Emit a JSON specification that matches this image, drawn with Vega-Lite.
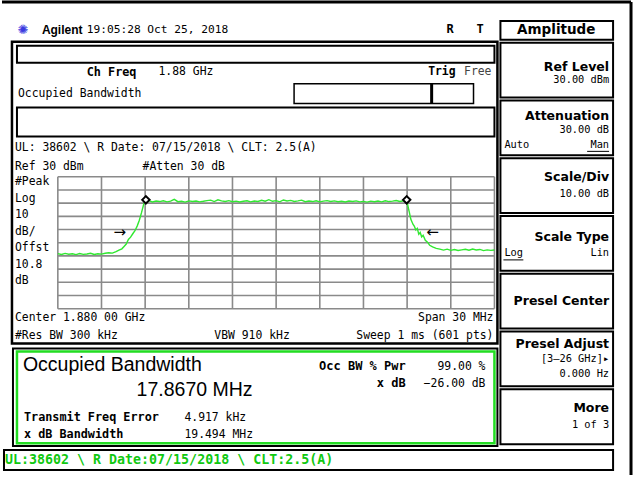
{
 "$schema": "https://vega.github.io/schema/vega-lite/v6.json",
 "width": 637, "height": 477, "padding": 0,
 "autosize": {"type": "fit", "contains": "padding"},
 "background": "white",
 "config": {"view": {"stroke": null}, "axis": {"disable": true}},
 "datasets": {
  "vgrid": [{"f":1865},{"f":1868},{"f":1871},{"f":1874},{"f":1877},{"f":1880},{"f":1883},{"f":1886},{"f":1889},{"f":1892},{"f":1895}],
  "hgrid": [{"p":30},{"p":20},{"p":10},{"p":0},{"p":-10},{"p":-20},{"p":-30},{"p":-40},{"p":-50},{"p":-60},{"p":-70}],
  "markers": [{"f":1871.05,"p":12.5},{"f":1888.97,"p":12.5}],
  "arrows": [{"f":1869.25,"p":-11.9,"sym":"→"},{"f":1890.75,"p":-11.9,"sym":"←"}],
  "trace": [
   {"f":1865.00,"p":-28.3},{"f":1865.25,"p":-28.9},{"f":1865.50,"p":-28.1},{"f":1865.75,"p":-28.7},
   {"f":1866.00,"p":-28.4},{"f":1866.25,"p":-29.0},{"f":1866.50,"p":-28.2},{"f":1866.75,"p":-28.8},
   {"f":1867.00,"p":-28.5},{"f":1867.25,"p":-28.0},{"f":1867.50,"p":-28.9},{"f":1867.75,"p":-28.4},
   {"f":1868.00,"p":-28.6},{"f":1868.25,"p":-28.0},{"f":1868.50,"p":-27.6},{"f":1868.75,"p":-27.9},
   {"f":1869.00,"p":-26.8},{"f":1869.20,"p":-25.6},{"f":1869.40,"p":-24.6},{"f":1869.55,"p":-22.8},
   {"f":1869.70,"p":-21.0},{"f":1869.85,"p":-17.5},{"f":1870.00,"p":-15.8},{"f":1870.15,"p":-13.2},
   {"f":1870.30,"p":-10.9},{"f":1870.45,"p":-7.4},{"f":1870.60,"p":-3.0},{"f":1870.75,"p":2.8},
   {"f":1870.90,"p":9.2},{"f":1871.00,"p":11.6},
   {"f":1871.25,"p":11.9},{"f":1871.50,"p":10.9},{"f":1871.75,"p":11.6},{"f":1872.00,"p":11.2},
   {"f":1872.25,"p":11.8},{"f":1872.50,"p":11.0},{"f":1872.75,"p":11.5},{"f":1873.00,"p":12.9},
   {"f":1873.25,"p":11.1},{"f":1873.50,"p":11.4},{"f":1873.75,"p":10.8},{"f":1874.00,"p":11.7},
   {"f":1874.25,"p":11.2},{"f":1874.50,"p":11.6},{"f":1874.75,"p":11.0},{"f":1875.00,"p":11.4},
   {"f":1875.25,"p":11.9},{"f":1875.50,"p":12.3},{"f":1875.75,"p":11.2},{"f":1876.00,"p":12.5},
   {"f":1876.25,"p":11.7},{"f":1876.50,"p":11.3},{"f":1876.75,"p":11.9},{"f":1877.00,"p":11.1},
   {"f":1877.25,"p":11.5},{"f":1877.50,"p":10.9},{"f":1877.75,"p":11.4},{"f":1878.00,"p":11.8},
   {"f":1878.25,"p":11.0},{"f":1878.50,"p":11.6},{"f":1878.75,"p":11.3},{"f":1879.00,"p":12.2},
   {"f":1879.25,"p":11.5},{"f":1879.50,"p":12.6},{"f":1879.75,"p":11.4},{"f":1880.00,"p":11.9},
   {"f":1880.25,"p":11.0},{"f":1880.50,"p":12.4},{"f":1880.75,"p":11.6},{"f":1881.00,"p":12.1},
   {"f":1881.25,"p":11.3},{"f":1881.50,"p":11.7},{"f":1881.75,"p":12.3},{"f":1882.00,"p":11.1},
   {"f":1882.25,"p":11.6},{"f":1882.50,"p":11.2},{"f":1882.75,"p":11.8},{"f":1883.00,"p":11.0},
   {"f":1883.25,"p":11.5},{"f":1883.50,"p":11.9},{"f":1883.75,"p":11.3},{"f":1884.00,"p":11.7},
   {"f":1884.25,"p":11.1},{"f":1884.50,"p":11.4},{"f":1884.75,"p":10.9},{"f":1885.00,"p":11.6},
   {"f":1885.25,"p":11.2},{"f":1885.50,"p":11.7},{"f":1885.75,"p":11.0},{"f":1886.00,"p":11.3},
   {"f":1886.25,"p":10.8},{"f":1886.50,"p":11.5},{"f":1886.75,"p":11.1},{"f":1887.00,"p":11.6},
   {"f":1887.25,"p":11.0},{"f":1887.50,"p":11.8},{"f":1887.75,"p":11.2},{"f":1888.00,"p":11.5},
   {"f":1888.25,"p":12.0},{"f":1888.50,"p":11.3},{"f":1888.75,"p":11.8},{"f":1889.00,"p":11.2},
   {"f":1889.08,"p":6.5},{"f":1889.15,"p":3.2},{"f":1889.25,"p":-2.1},{"f":1889.40,"p":-6.0},
   {"f":1889.50,"p":-7.6},{"f":1889.60,"p":-10.3},{"f":1889.70,"p":-9.1},{"f":1889.80,"p":-13.5},
   {"f":1889.90,"p":-12.2},{"f":1890.00,"p":-15.6},{"f":1890.10,"p":-14.4},{"f":1890.25,"p":-18.1},
   {"f":1890.40,"p":-19.6},{"f":1890.55,"p":-21.9},{"f":1890.75,"p":-23.2},{"f":1891.00,"p":-24.3},
   {"f":1891.25,"p":-24.8},{"f":1891.50,"p":-25.6},{"f":1891.75,"p":-24.9},{"f":1892.00,"p":-25.8},
   {"f":1892.25,"p":-25.2},{"f":1892.50,"p":-25.9},{"f":1892.75,"p":-25.4},{"f":1893.00,"p":-25.0},
   {"f":1893.25,"p":-25.7},{"f":1893.50,"p":-24.8},{"f":1893.75,"p":-25.5},{"f":1894.00,"p":-25.1},
   {"f":1894.25,"p":-26.0},{"f":1894.50,"p":-25.4},{"f":1894.75,"p":-25.8},{"f":1895.00,"p":-25.5}
  ]
 },
 "data": {"values": [{}]},
 "layer": [
  {"mark":{"type":"rule","color":"black","strokeWidth":3},"encoding":{"x":{"datum":1861.164},"x2":{"datum":1904.384},"y":{"datum":162.453}}},
  {"mark":{"type":"rule","color":"black","strokeWidth":3},"encoding":{"x":{"datum":1904.384},"y":{"datum":162.453},"y2":{"datum":-196.038}}},
  {"mark":{"type":"rect","fill":"white","stroke":"black","strokeWidth":2.5},"encoding":{"x":{"datum":1861.849},"x2":{"datum":1895.205},"y":{"datum":132.264},"y2":{"datum":-96.415}}},
  {"mark":{"type":"rect","fill":"white","stroke":"black","strokeWidth":2},"encoding":{"x":{"datum":1862.192},"x2":{"datum":1895.0},"y":{"datum":129.245},"y2":{"datum":116.415}}},
  {"mark":{"type":"rect","fill":"white","stroke":"black","strokeWidth":1.5},"encoding":{"x":{"datum":1881.233},"x2":{"datum":1893.562},"y":{"datum":100.566},"y2":{"datum":85.472}}},
  {"mark":{"type":"rule","color":"black","strokeWidth":3},"encoding":{"x":{"datum":1890.685},"y":{"datum":100.566},"y2":{"datum":85.472}}},
  {"mark":{"type":"rect","fill":"white","stroke":"black","strokeWidth":2},"encoding":{"x":{"datum":1862.192},"x2":{"datum":1895.0},"y":{"datum":82.453},"y2":{"datum":60.566}}},
  {"data":{"name":"vgrid"},"mark":{"type":"rule","color":"#8a8a8a","strokeWidth":1.6},"encoding":{"x":{"field":"f","type":"quantitative"},"y":{"datum":30},"y2":{"datum":-70}}},
  {"data":{"name":"hgrid"},"mark":{"type":"rule","color":"#8a8a8a","strokeWidth":1.6},"encoding":{"y":{"field":"p","type":"quantitative"},"x":{"datum":1865},"x2":{"datum":1895}}},
  {"data":{"name":"trace"},"mark":{"type":"line","color":"#30e830","strokeWidth":1.4},"encoding":{"x":{"field":"f","type":"quantitative","scale":{"domain":[1861.164,1904.795],"nice":false,"zero":false}},"y":{"field":"p","type":"quantitative","scale":{"domain":[-196.038,163.962],"nice":false,"zero":false}}}},
  {"data":{"name":"markers"},"mark":{"type":"point","shape":"diamond","filled":true,"fill":"white","stroke":"black","strokeWidth":2,"size":55,"opacity":1},"encoding":{"x":{"field":"f","type":"quantitative"},"y":{"field":"p","type":"quantitative"}}},
  {"data":{"name":"arrows"},"mark":{"type":"text","font":"DejaVu Sans","fontSize":15,"baseline":"middle","align":"center","fill":"black"},"encoding":{"x":{"field":"f","type":"quantitative"},"y":{"field":"p","type":"quantitative"},"text":{"field":"sym"}}},
  {"mark":{"type":"rect","fill":"white","stroke":"black","strokeWidth":2},"encoding":{"x":{"datum":1861.918},"x2":{"datum":1895.205},"y":{"datum":-100.189},"y2":{"datum":-174.151}}},
  {"mark":{"type":"rect","fill":"white","stroke":"#22dd22","strokeWidth":2.5},"encoding":{"x":{"datum":1862.192},"x2":{"datum":1895.0},"y":{"datum":-102.453},"y2":{"datum":-171.887}}},
  {"mark":{"type":"rect","fill":"white","stroke":"black","strokeWidth":2},"encoding":{"x":{"datum":1861.301},"x2":{"datum":1903.151},"y":{"datum":-177.170},"y2":{"datum":-192.264}}},
  {"mark":{"type":"rect","fill":"white","stroke":"black","strokeWidth":2},"encoding":{"x":{"datum":1895.411},"x2":{"datum":1903.151},"y":{"datum":148.113},"y2":{"datum":133.774}}},
  {"mark":{"type":"rect","fill":"white","stroke":"black","strokeWidth":2},"encoding":{"x":{"datum":1895.411},"x2":{"datum":1903.151},"y":{"datum":131.509},"y2":{"datum":90.0}}},
  {"mark":{"type":"rect","fill":"white","stroke":"black","strokeWidth":2},"encoding":{"x":{"datum":1895.411},"x2":{"datum":1903.151},"y":{"datum":87.736},"y2":{"datum":46.226}}},
  {"mark":{"type":"rect","fill":"white","stroke":"black","strokeWidth":2},"encoding":{"x":{"datum":1895.411},"x2":{"datum":1903.151},"y":{"datum":43.962},"y2":{"datum":2.453}}},
  {"mark":{"type":"rect","fill":"white","stroke":"black","strokeWidth":2},"encoding":{"x":{"datum":1895.411},"x2":{"datum":1903.151},"y":{"datum":0.189},"y2":{"datum":-41.321}}},
  {"mark":{"type":"rect","fill":"white","stroke":"black","strokeWidth":2},"encoding":{"x":{"datum":1895.411},"x2":{"datum":1903.151},"y":{"datum":-43.585},"y2":{"datum":-85.094}}},
  {"mark":{"type":"rect","fill":"white","stroke":"black","strokeWidth":2},"encoding":{"x":{"datum":1895.411},"x2":{"datum":1903.151},"y":{"datum":-87.358},"y2":{"datum":-128.868}}},
  {"mark":{"type":"rect","fill":"white","stroke":"black","strokeWidth":2},"encoding":{"x":{"datum":1895.411},"x2":{"datum":1903.151},"y":{"datum":-131.132},"y2":{"datum":-172.642}}},
  {"mark":{"type":"rule","color":"black","strokeWidth":1},"encoding":{"x":{"datum":1901.370},"x2":{"datum":1902.877},"y":{"datum":49.245}}},
  {"mark":{"type":"rule","color":"black","strokeWidth":1},"encoding":{"x":{"datum":1895.616},"x2":{"datum":1896.986},"y":{"datum":-33.019}}},

  {"mark":{"type":"text","align":"center","baseline":"middle","font":"DejaVu Sans","fontSize":13,"fill":"#3a3adf"},"encoding":{"x":{"datum":1862.603},"y":{"datum":141.321},"text":{"value":"✺"}}},
  {"mark":{"type":"text","align":"left","baseline":"middle","font":"Liberation Sans","fontWeight":"bold","fontSize":12},"encoding":{"x":{"datum":1863.904},"y":{"datum":141.321},"text":{"value":"Agilent"}}},
  {"mark":{"type":"text","align":"left","baseline":"middle","font":"DejaVu Sans Mono","fontSize":11.2},"encoding":{"x":{"datum":1866.986},"y":{"datum":141.321},"text":{"value":"19:05:28  Oct 25, 2018"}}},
  {"mark":{"type":"text","align":"left","baseline":"middle","font":"DejaVu Sans Mono","fontWeight":"bold","fontSize":12},"encoding":{"x":{"datum":1891.712},"y":{"datum":142.075},"text":{"value":"R"}}},
  {"mark":{"type":"text","align":"left","baseline":"middle","font":"DejaVu Sans Mono","fontWeight":"bold","fontSize":12},"encoding":{"x":{"datum":1893.767},"y":{"datum":142.075},"text":{"value":"T"}}},

  {"mark":{"type":"text","align":"left","baseline":"middle","font":"DejaVu Sans Mono","fontWeight":"bold","fontSize":11.8},"encoding":{"x":{"datum":1866.986},"y":{"datum":109.245},"text":{"value":"Ch Freq"}}},
  {"mark":{"type":"text","align":"left","baseline":"middle","font":"DejaVu Sans Mono","fontSize":11.4},"encoding":{"x":{"datum":1871.918},"y":{"datum":109.245},"text":{"value":"1.88 GHz"}}},
  {"mark":{"type":"text","align":"right","baseline":"middle","font":"DejaVu Sans Mono","fontWeight":"bold","fontSize":11.4},"encoding":{"x":{"datum":1892.329},"y":{"datum":109.245},"text":{"value":"Trig"}}},
  {"mark":{"type":"text","align":"right","baseline":"middle","font":"DejaVu Sans Mono","fontSize":11.4,"fill":"#444444"},"encoding":{"x":{"datum":1894.795},"y":{"datum":109.245},"text":{"value":"Free"}}},
  {"mark":{"type":"text","align":"left","baseline":"middle","font":"DejaVu Sans Mono","fontSize":11.4},"encoding":{"x":{"datum":1862.260},"y":{"datum":92.642},"text":{"value":"Occupied Bandwidth"}}},
  {"mark":{"type":"text","align":"left","baseline":"middle","font":"DejaVu Sans Mono","fontSize":11.4},"encoding":{"x":{"datum":1862.055},"y":{"datum":51.509},"text":{"value":"UL: 38602 \\ R Date: 07/15/2018 \\ CLT: 2.5(A)"}}},
  {"mark":{"type":"text","align":"left","baseline":"middle","font":"DejaVu Sans Mono","fontSize":11.4},"encoding":{"x":{"datum":1862.055},"y":{"datum":37.170},"text":{"value":"Ref 30 dBm"}}},
  {"mark":{"type":"text","align":"left","baseline":"middle","font":"DejaVu Sans Mono","fontSize":11.4},"encoding":{"x":{"datum":1870.822},"y":{"datum":37.170},"text":{"value":"#Atten 30 dB"}}},
  {"mark":{"type":"text","align":"left","baseline":"middle","font":"DejaVu Sans Mono","fontSize":11.4,"lineHeight":16.5},"encoding":{"x":{"datum":1862.055},"y":{"datum":25.849},"text":{"value":["#Peak","Log","10","dB/","Offst","10.8","dB"]}}},
  {"mark":{"type":"text","align":"left","baseline":"middle","font":"DejaVu Sans Mono","fontSize":11.4},"encoding":{"x":{"datum":1862.055},"y":{"datum":-76.792},"text":{"value":"Center 1.880 00 GHz"}}},
  {"mark":{"type":"text","align":"right","baseline":"middle","font":"DejaVu Sans Mono","fontSize":11.4},"encoding":{"x":{"datum":1894.932},"y":{"datum":-76.792},"text":{"value":"Span 30 MHz"}}},
  {"mark":{"type":"text","align":"left","baseline":"middle","font":"DejaVu Sans Mono","fontSize":11.4},"encoding":{"x":{"datum":1862.055},"y":{"datum":-90.377},"text":{"value":"#Res BW 300 kHz"}}},
  {"mark":{"type":"text","align":"left","baseline":"middle","font":"DejaVu Sans Mono","fontSize":11.4},"encoding":{"x":{"datum":1875.753},"y":{"datum":-90.377},"text":{"value":"VBW 910 kHz"}}},
  {"mark":{"type":"text","align":"right","baseline":"middle","font":"DejaVu Sans Mono","fontSize":11.4},"encoding":{"x":{"datum":1894.932},"y":{"datum":-90.377},"text":{"value":"Sweep 1 ms (601 pts)"}}},

  {"mark":{"type":"text","align":"left","baseline":"alphabetic","font":"Liberation Sans","fontSize":19.5},"encoding":{"x":{"datum":1862.603},"y":{"datum":-117.547},"text":{"value":"Occupied Bandwidth"}}},
  {"mark":{"type":"text","align":"left","baseline":"alphabetic","font":"Liberation Sans","fontSize":19.5},"encoding":{"x":{"datum":1870.411},"y":{"datum":-136.415},"text":{"value":"17.8670 MHz"}}},
  {"mark":{"type":"text","align":"right","baseline":"alphabetic","font":"DejaVu Sans Mono","fontWeight":"bold","fontSize":12},"encoding":{"x":{"datum":1888.904},"y":{"datum":-116.792},"text":{"value":"Occ BW % Pwr"}}},
  {"mark":{"type":"text","align":"right","baseline":"alphabetic","font":"DejaVu Sans Mono","fontSize":11.4},"encoding":{"x":{"datum":1894.384},"y":{"datum":-116.792},"text":{"value":"99.00 %"}}},
  {"mark":{"type":"text","align":"right","baseline":"alphabetic","font":"DejaVu Sans Mono","fontWeight":"bold","fontSize":12},"encoding":{"x":{"datum":1888.904},"y":{"datum":-129.623},"text":{"value":"x dB"}}},
  {"mark":{"type":"text","align":"right","baseline":"alphabetic","font":"DejaVu Sans Mono","fontSize":11.4},"encoding":{"x":{"datum":1894.384},"y":{"datum":-129.623},"text":{"value":"−26.00 dB"}}},
  {"mark":{"type":"text","align":"left","baseline":"alphabetic","font":"DejaVu Sans Mono","fontWeight":"bold","fontSize":11.8},"encoding":{"x":{"datum":1862.671},"y":{"datum":-155.283},"text":{"value":"Transmit Freq Error"}}},
  {"mark":{"type":"text","align":"left","baseline":"alphabetic","font":"DejaVu Sans Mono","fontSize":11.4},"encoding":{"x":{"datum":1873.699},"y":{"datum":-155.283},"text":{"value":"4.917 kHz"}}},
  {"mark":{"type":"text","align":"left","baseline":"alphabetic","font":"DejaVu Sans Mono","fontWeight":"bold","fontSize":11.8},"encoding":{"x":{"datum":1862.671},"y":{"datum":-168.113},"text":{"value":"x dB Bandwidth"}}},
  {"mark":{"type":"text","align":"left","baseline":"alphabetic","font":"DejaVu Sans Mono","fontSize":11.4},"encoding":{"x":{"datum":1873.699},"y":{"datum":-168.113},"text":{"value":"19.494 MHz"}}},
  {"mark":{"type":"text","align":"left","baseline":"middle","font":"DejaVu Sans Mono","fontWeight":"bold","fontSize":13.3,"fill":"#11c811"},"encoding":{"x":{"datum":1861.370},"y":{"datum":-184.717},"text":{"value":"UL:38602 \\ R Date:07/15/2018 \\ CLT:2.5(A)"}}},

  {"mark":{"type":"text","align":"center","baseline":"middle","font":"DejaVu Sans","fontWeight":"bold","fontSize":13.5},"encoding":{"x":{"datum":1899.247},"y":{"datum":140.943},"text":{"value":"Amplitude"}}},
  {"mark":{"type":"text","align":"right","baseline":"middle","font":"DejaVu Sans","fontWeight":"bold","fontSize":12.5},"encoding":{"x":{"datum":1902.877},"y":{"datum":113.396},"text":{"value":"Ref Level"}}},
  {"mark":{"type":"text","align":"right","baseline":"middle","font":"DejaVu Sans Mono","fontSize":10.3},"encoding":{"x":{"datum":1902.877},"y":{"datum":103.585},"text":{"value":"30.00 dBm"}}},
  {"mark":{"type":"text","align":"right","baseline":"middle","font":"DejaVu Sans","fontWeight":"bold","fontSize":12.5},"encoding":{"x":{"datum":1902.877},"y":{"datum":76.415},"text":{"value":"Attenuation"}}},
  {"mark":{"type":"text","align":"right","baseline":"middle","font":"DejaVu Sans Mono","fontSize":10.3},"encoding":{"x":{"datum":1902.877},"y":{"datum":65.094},"text":{"value":"30.00 dB"}}},
  {"mark":{"type":"text","align":"left","baseline":"middle","font":"DejaVu Sans Mono","fontSize":10.3},"encoding":{"x":{"datum":1895.685},"y":{"datum":53.774},"text":{"value":"Auto"}}},
  {"mark":{"type":"text","align":"right","baseline":"middle","font":"DejaVu Sans Mono","fontSize":10.3},"encoding":{"x":{"datum":1902.877},"y":{"datum":53.774},"text":{"value":"Man"}}},
  {"mark":{"type":"text","align":"right","baseline":"middle","font":"DejaVu Sans","fontWeight":"bold","fontSize":12.5},"encoding":{"x":{"datum":1902.877},"y":{"datum":29.623},"text":{"value":"Scale/Div"}}},
  {"mark":{"type":"text","align":"right","baseline":"middle","font":"DejaVu Sans Mono","fontSize":10.3},"encoding":{"x":{"datum":1902.877},"y":{"datum":16.792},"text":{"value":"10.00 dB"}}},
  {"mark":{"type":"text","align":"right","baseline":"middle","font":"DejaVu Sans","fontWeight":"bold","fontSize":12.5},"encoding":{"x":{"datum":1902.877},"y":{"datum":-15.660},"text":{"value":"Scale Type"}}},
  {"mark":{"type":"text","align":"left","baseline":"middle","font":"DejaVu Sans Mono","fontSize":10.3},"encoding":{"x":{"datum":1895.685},"y":{"datum":-27.736},"text":{"value":"Log"}}},
  {"mark":{"type":"text","align":"right","baseline":"middle","font":"DejaVu Sans Mono","fontSize":10.3},"encoding":{"x":{"datum":1902.877},"y":{"datum":-27.736},"text":{"value":"Lin"}}},
  {"mark":{"type":"text","align":"right","baseline":"middle","font":"DejaVu Sans","fontWeight":"bold","fontSize":12.5},"encoding":{"x":{"datum":1902.877},"y":{"datum":-63.962},"text":{"value":"Presel Center"}}},
  {"mark":{"type":"text","align":"right","baseline":"middle","font":"DejaVu Sans","fontWeight":"bold","fontSize":12.5},"encoding":{"x":{"datum":1902.877},"y":{"datum":-96.415},"text":{"value":"Presel Adjust"}}},
  {"mark":{"type":"text","align":"right","baseline":"middle","font":"DejaVu Sans Mono","fontSize":10.3},"encoding":{"x":{"datum":1902.877},"y":{"datum":-108.491},"text":{"value":"[3–26 GHz]▸"}}},
  {"mark":{"type":"text","align":"right","baseline":"middle","font":"DejaVu Sans Mono","fontSize":10.3},"encoding":{"x":{"datum":1902.877},"y":{"datum":-119.811},"text":{"value":"0.000  Hz"}}},
  {"mark":{"type":"text","align":"right","baseline":"middle","font":"DejaVu Sans","fontWeight":"bold","fontSize":12.5},"encoding":{"x":{"datum":1902.877},"y":{"datum":-145.472},"text":{"value":"More"}}},
  {"mark":{"type":"text","align":"right","baseline":"middle","font":"DejaVu Sans Mono","fontSize":10.3},"encoding":{"x":{"datum":1902.877},"y":{"datum":-158.302},"text":{"value":"1 of 3"}}}
 ]
}
